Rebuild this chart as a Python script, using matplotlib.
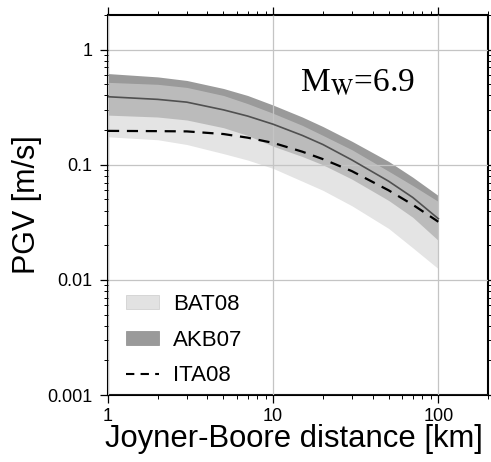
import matplotlib
matplotlib.use("Agg")
import matplotlib.pyplot as plt
from matplotlib.patches import Patch
from matplotlib.lines import Line2D

dist = [1, 2, 3, 5, 7, 10, 15, 20, 30, 50, 70, 100]

# AKB07 band (upper, median, lower)
akb_hi = [0.62, 0.58, 0.54, 0.46, 0.40, 0.33, 0.26, 0.215, 0.16, 0.107, 0.078, 0.054]
akb_med = [0.39, 0.37, 0.35, 0.30, 0.265, 0.225, 0.18, 0.15, 0.11, 0.072, 0.052, 0.034]
akb_lo = [0.27, 0.26, 0.245, 0.21, 0.18, 0.145, 0.118, 0.10, 0.075, 0.049, 0.035, 0.022]

# BAT08 band (upper, lower)
bat_hi = [0.52, 0.50, 0.47, 0.40, 0.34, 0.28, 0.22, 0.18, 0.135, 0.088, 0.066, 0.048]
bat_lo = [0.175, 0.165, 0.15, 0.125, 0.11, 0.093, 0.072, 0.06, 0.044, 0.028, 0.019, 0.0125]

# ITA08 median
ita = [0.197, 0.196, 0.195, 0.185, 0.172, 0.155, 0.13, 0.112, 0.088, 0.06, 0.045, 0.032]

plt.rcParams['font.family'] = ['Liberation Sans', 'DejaVu Sans']

fig = plt.figure(figsize=(4.91, 4.62), dpi=100)
ax = fig.add_axes([0.22, 0.145, 0.774, 0.8225])

# AKB07 underneath, BAT08 laid over it semi-transparent
ax.fill_between(dist, akb_lo, akb_hi, color='#9a9a9a', lw=0, zorder=1)
ax.fill_between(dist, bat_lo, bat_hi, color='#d2d2d2', alpha=0.6, lw=0, zorder=2)
ax.plot(dist, akb_med, color='#505050', lw=1.2, zorder=3)
ax.plot(dist, ita, color='black', lw=1.6, ls=(0, (5, 3.5)), zorder=4)

ax.set_xscale('log')
ax.set_yscale('log')
ax.set_xlim(1, 200)
ax.set_ylim(0.001, 2)
ax.set_xticks([1, 10, 100])
ax.set_xticklabels(['1', '10', '100'])
ax.set_yticks([0.001, 0.01, 0.1, 1])
ax.set_yticklabels(['0.001', '0.01', '0.1', '1'])

ax.grid(True, which='major', color='#c4c4c4', lw=0.9, zorder=5)
ax.set_axisbelow(False)
ax.tick_params(which='both', direction='out', top=True, right=True, labelsize=13)
ax.tick_params(axis='y', pad=5)
ax.tick_params(axis='x', pad=3)
ax.tick_params(which='major', length=6, width=0.9)
ax.tick_params(which='minor', length=3, width=0.7)
for s in ax.spines.values():
    s.set_linewidth(1.5)

ax.set_xlabel('Joyner-Boore distance [km]', fontsize=22.3, labelpad=0)
ax.xaxis.set_label_coords(0.49, -0.075)
ax.set_ylabel('PGV [m/s]', fontsize=22, labelpad=4)

ax.text(0.505, 0.80, r'M$_{\rm W}$=6.9', transform=ax.transAxes, va='baseline',
        fontsize=24, family='Liberation Serif', math_fontfamily='stix')

handles = [Patch(facecolor='#e2e2e2', edgecolor='#cccccc', lw=0.5),
           Patch(facecolor='#9a9a9a', edgecolor='#8a8a8a', lw=0.5),
           Line2D([0], [0], color='black', lw=1.5, ls=(0, (4, 3)))]
ax.legend(handles, ['BAT08', 'AKB07', 'ITA08'], loc='lower left', frameon=False,
          bbox_to_anchor=(0.024, 0.0), fontsize=16, handlelength=1.5,
          handleheight=0.6, labelspacing=0.65, borderaxespad=0,
          handletextpad=0.6)

fig.savefig('out.png', dpi=100)
